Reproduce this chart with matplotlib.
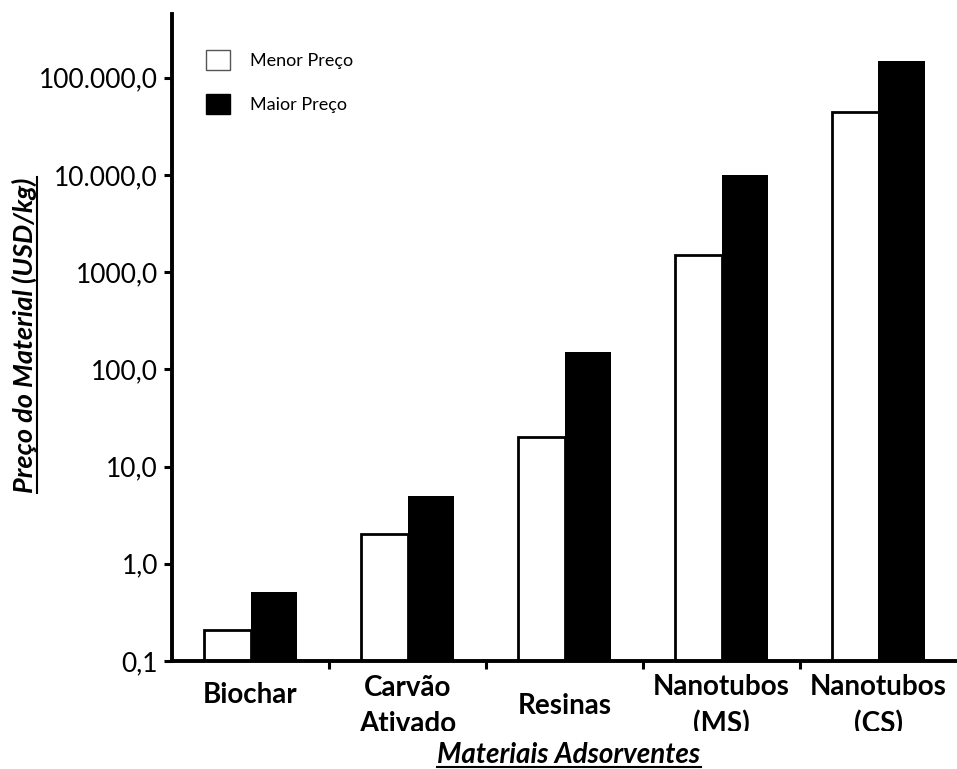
import numpy as np
import matplotlib
matplotlib.use('Agg')
import matplotlib.pyplot as plt
from matplotlib.patches import Patch
from matplotlib.lines import Line2D
from matplotlib.transforms import Bbox, blended_transform_factory

materiais = ['Biochar', 'Carvão\nAtivado', 'Resinas', 'Nanotubos\n(MS)', 'Nanotubos\n(CS)']
menor_preco = [0.2, 2.0, 20.0, 1500.0, 45000.0]
maior_preco = [0.5, 5.0, 150.0, 10000.0, 150000.0]
y_ticks = [0.1, 1, 10, 100, 1000, 10000, 100000]
y_tick_labels = ['0,1', '1,0', '10,0', '100,0', '1000,0', '10.000,0', '100.000,0']
series_labels = ['Menor Preço', 'Maior Preço']

# vertical centre of each category label, in pixels from top of figure
label_centers = [695, 706, 706, 706, 706]

plt.rcParams['font.family'] = ['Lato', 'DejaVu Sans']

W, H = 957, 769
fig = plt.figure(figsize=(W / 100, H / 100), dpi=100)
ax = fig.add_axes([172 / W, (H - 661) / H, 1 - 172 / W, (661 - 14) / H])
ax.set_yscale('log')

x = np.arange(len(materiais))
w = 0.293
ax.bar(x - w / 2, menor_preco, w, bottom=0.01, color='white', edgecolor='black', linewidth=2.0)
ax.bar(x + w / 2, maior_preco, w, bottom=0.01, color='black', edgecolor='black', linewidth=0)

ax.set_xlim(-0.5, len(materiais) - 0.5)
ax.set_ylim(0.1, 0.1 * 10 ** (647 / 97.2))

for side in ['top', 'right']:
    ax.spines[side].set_visible(False)
for side in ['left', 'bottom']:
    ax.spines[side].set_linewidth(2.8)

ax.set_yticks(y_ticks)
ax.set_yticklabels(y_tick_labels, fontsize=19)
ax.minorticks_off()
ax.tick_params(axis='y', direction='out', length=6, width=2.2, pad=4)
ax.set_xticks(x[:-1] + 0.5)
ax.set_xticklabels([])
ax.tick_params(axis='x', direction='out', length=6, width=2.2)

# category labels, clipped at the bottom like the original
clip = Bbox([[0, H - 731], [W, H]])
trans = blended_transform_factory(ax.transData, fig.transFigure)
for xi, lab, yc in zip(x, materiais, label_centers):
    t = ax.text(xi, (H - yc) / H, lab, transform=trans, ha='center', va='center',
                fontsize=20, fontweight='bold', linespacing=1.45, clip_on=True)
    t.set_clip_box(clip)

handles = [Patch(facecolor='white', edgecolor='#555555', linewidth=1.0),
           Patch(facecolor='black', edgecolor='black', linewidth=1.0)]
ax.legend(handles, series_labels, loc='upper left', bbox_to_anchor=(34 / 785, (661 - 50) / 647),
          frameon=False, fontsize=13, handlelength=1.33, handleheight=1.33,
          handletextpad=1.1, labelspacing=1.3, borderpad=0, borderaxespad=0)

xlab = fig.text(569 / W, (H - 755) / H, 'Materiais Adsorventes', ha='center', va='center',
                fontsize=20, fontweight='bold', style='italic')
ylab = fig.text(24 / W, (H - 335) / H, 'Preço do Material (USD/kg)', ha='center', va='center',
                rotation=90, fontsize=19.5, fontweight='bold', style='italic')

# underline both axis titles
fig.canvas.draw()
r = fig.canvas.get_renderer()
bx = xlab.get_window_extent(r)
fig.add_artist(Line2D([bx.x0, bx.x1], [H - 767, H - 767], transform=None, color='black', lw=1.5))
by = ylab.get_window_extent(r)
fig.add_artist(Line2D([37, 37], [by.y0, by.y1], transform=None, color='black', lw=1.5))

fig.savefig('out.png', dpi=100)
